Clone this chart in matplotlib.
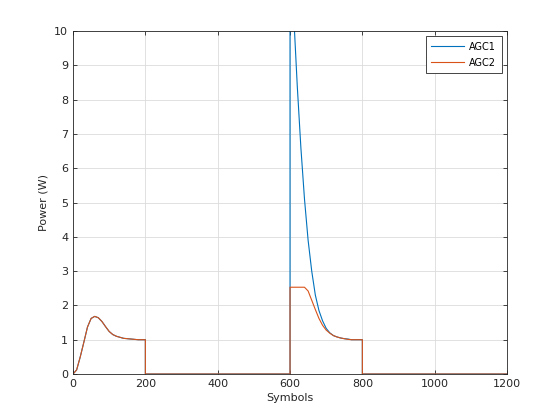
import numpy as np
import matplotlib
matplotlib.use('Agg')
import matplotlib.pyplot as plt

# First burst (both AGCs identical), sampled every 10 symbols
x_burst1 = [0, 10, 20, 30, 40, 50, 60, 70, 80, 90, 100, 110, 120, 130,
            140, 150, 160, 170, 180, 190, 200]
p_burst1 = [0.0, 0.12, 0.5, 0.93, 1.37, 1.62, 1.68, 1.64, 1.53, 1.38, 1.24,
            1.15, 1.1, 1.07, 1.04, 1.03, 1.02, 1.01, 1.0, 1.0, 1.0]

# Second burst, sampled every 10 symbols
x_burst2 = [600, 610, 620, 630, 640, 650, 660, 670, 680, 690, 700, 710,
            720, 730, 740, 750, 760, 770, 780, 790, 800]
p_agc1_b2 = [14.0, 10.5, 8.4, 6.6, 5.1, 3.9, 3.0, 2.3, 1.85, 1.55, 1.33,
             1.2, 1.12, 1.08, 1.05, 1.03, 1.02, 1.0, 1.0, 1.0, 1.0]
p_agc2_b2 = [2.53, 2.53, 2.53, 2.53, 2.53, 2.42, 2.15, 1.88, 1.62, 1.42,
             1.28, 1.19, 1.12, 1.08, 1.05, 1.03, 1.01, 1.0, 1.0, 1.0, 1.0]

x_end = 1200

def build(p2):
    xx = list(x_burst1) + [200, 600] + list(x_burst2) + [800, x_end]
    yy = list(p_burst1) + [0.0, 0.0] + list(p2) + [0.0, 0.0]
    return np.array(xx), np.array(yy)

x1, y1 = build(p_agc1_b2)
x2, y2 = build(p_agc2_b2)

plt.rcParams['font.family'] = 'DejaVu Sans'
plt.rcParams['font.size'] = 8

fig = plt.figure(figsize=(5.6, 4.2), dpi=100)
ax = fig.add_axes([0.1304, 0.1095, 0.775, 0.8167])

ax.plot(x1, y1, color='#0072BD', lw=0.8, label='AGC1')
ax.plot(x2, y2, color='#D95319', lw=0.8, label='AGC2')

ax.set_xlim(0, 1200) ; ax.set_ylim(0, 10)
ax.set_xticks(np.arange(0, 1201, 200))
ax.set_yticks(np.arange(0, 11, 1))
ax.grid(True, color='#dcdcdc', lw=0.6)
ax.set_axisbelow(True)
ax.tick_params(direction='in', top=True, right=True, length=3,
               colors='#262626', labelsize=8, width=0.6)
for s in ax.spines.values():
    s.set_color('#262626') ; s.set_linewidth(0.6)

ax.set_xlabel('Symbols', fontsize=8, color='#262626', labelpad=3)
ax.set_ylabel('Power (W)', fontsize=8, color='#262626', labelpad=4)

leg = ax.legend(loc='upper right', fancybox=False, edgecolor='#262626',
                fontsize=7, handlelength=3.4, labelspacing=0.6,
                borderpad=0.6, borderaxespad=0.5, handletextpad=0.5,
                framealpha=1)
leg.get_frame().set_linewidth(0.6)

fig.savefig('out.png', dpi=100)
